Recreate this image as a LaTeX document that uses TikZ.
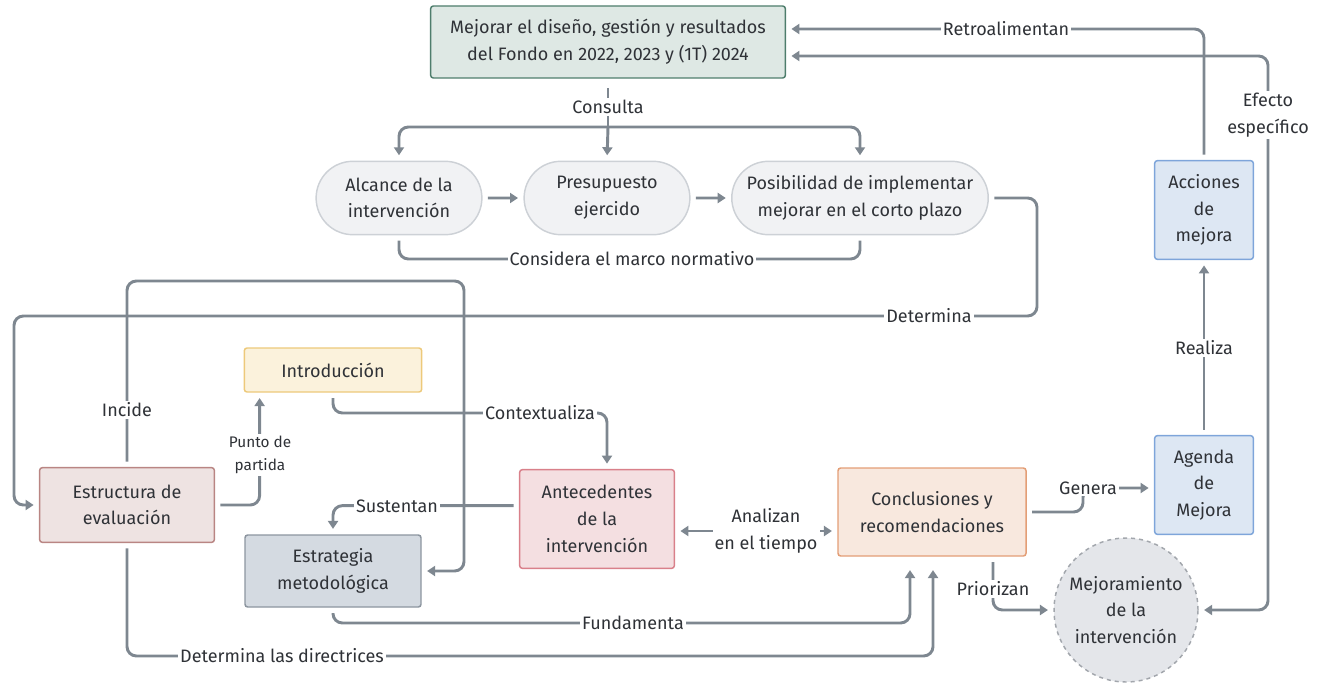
\documentclass[tikz,border=0pt]{standalone}
\usepackage{fontspec}
\setmainfont{Fira Sans}
\usetikzlibrary{arrows.meta, positioning, calc, shapes.misc}
\definecolor{linea}{HTML}{7E8790}
\definecolor{texto}{HTML}{2F3237}
\definecolor{verdeF}{HTML}{DEE8E4}\definecolor{verdeB}{HTML}{4E7D6C}
\definecolor{capF}{HTML}{F1F2F4}\definecolor{capB}{HTML}{CDD1D6}
\definecolor{amaF}{HTML}{FBF2DC}\definecolor{amaB}{HTML}{EDC97A}
\definecolor{rosF}{HTML}{EEE3E2}\definecolor{rosB}{HTML}{B98583}
\definecolor{rojF}{HTML}{F4DFE1}\definecolor{rojB}{HTML}{D9808A}
\definecolor{grisF}{HTML}{D4DAE1}\definecolor{grisB}{HTML}{8C959F}
\definecolor{narF}{HTML}{F8E8DE}\definecolor{narB}{HTML}{E39E76}
\definecolor{azuF}{HTML}{DDE7F3}\definecolor{azuB}{HTML}{7EA5DA}
\definecolor{cirF}{HTML}{E4E6EA}\definecolor{cirB}{HTML}{A2A6AC}
\tikzset{
    %Define standard arrow tip
    >={Triangle[length=6pt,width=7.5pt]},
    %Define style for boxes
    caja/.style={
           rectangle,
           rounded corners=2pt,
           line width=1.1pt,
           text=texto,
           align=center},
    capsula/.style={
           rounded rectangle,
           draw=capB, fill=capF, line width=1.1pt,
           text=texto,
           align=center,
           minimum height=55pt},
    % Define arrow style
    enl/.style={
           draw=linea,
           line width=2.2pt,
           rounded corners=7pt,
           shorten <=4pt,
           shorten >=4pt},
    etiq/.style={
           fill=white,
           inner sep=1.5pt,
           text=texto,
           align=center}
}
\begin{document}
\begin{tikzpicture}[x=0.75pt, y=-0.75pt, font=\fontsize{13.5}{20}\selectfont]
	\useasboundingbox (0,0) rectangle (1326,688);
	%
	% nodos
	%
	\node[caja, draw=verdeB, fill=verdeF, minimum width=266pt, minimum height=54pt] (mejorar) at (608,42) {Mejorar el diseño, gestión y resultados\\del Fondo en 2022, 2023 y (1T) 2024};
	\node[capsula, minimum width=131pt] (alcance) at (399,198) {Alcance de la\\intervención};
	\node[capsula, minimum width=131pt] (presup) at (607,198) {Presupuesto\\ejercido};
	\node[capsula, minimum width=199pt] (posib) at (860,198) {Posibilidad de implementar\\mejorar en el corto plazo};
	\node[caja, draw=amaB, fill=amaF, minimum width=133pt, minimum height=33pt] (intro) at (333,370) {Introducción};
	\node[caja, draw=rosB, fill=rosF, minimum width=131pt, minimum height=56pt] (estruct) at (127,505) {Estructura de\\evaluación};
	\node[caja, draw=grisB, fill=grisF, minimum width=132pt, minimum height=54pt] (estrat) at (333,571) {Estrategia\\metodológica};
	\node[caja, draw=rojB, fill=rojF, minimum width=116pt, minimum height=74pt] (antec) at (597,519) {Antecedentes\\de la\\intervención};
	\node[caja, draw=narB, fill=narF, minimum width=141pt, minimum height=66pt] (concl) at (932,512) {Conclusiones y\\recomendaciones};
	\node[caja, draw=azuB, fill=azuF, minimum width=74pt, minimum height=74pt] (agenda) at (1204,485) {Agenda\\de\\Mejora};
	\node[caja, draw=azuB, fill=azuF, minimum width=74pt, minimum height=74pt] (acciones) at (1204,210) {Acciones\\de\\mejora};
	\node[circle, draw=cirB, fill=cirF, dashed, line width=1.1pt, text=texto, align=center, minimum size=108pt, inner sep=0pt] (mejoram) at (1126,610) {Mejoramiento\\de la\\intervención};
	\coordinate (cons) at (608,127);
	%
	% enlaces
	%
	\draw[enl, shorten <=7pt, shorten >=0pt] (mejorar.south) -- (cons);
	\draw[enl, ->, shorten <=0pt] (cons) -| (alcance.north);
	\draw[enl, ->, shorten <=0pt] (cons) -- (presup.north);
	\draw[enl, ->, shorten <=0pt] (cons) -| (posib.north);
	\draw[enl, ->] (alcance) -- (presup);
	\draw[enl, ->] (presup) -- (posib);
	\draw[enl] (alcance.south) |- (632,259) -| (posib.south);
	\draw[enl, ->] (posib.east) -| (1037,316) -- (14,316) |- (estruct.west);
	\draw[enl, ->] (estruct.north) |- (464,281) |- (estrat.east);
	\draw[enl, ->] (estruct.east) -| ([xshift=12pt]intro.south west);
	\draw[enl, ->] (intro.south) |- (540,413) -| ([xshift=7.5pt]antec.north);
	\draw[enl, ->] ([yshift=10pt]antec.west) -| (estrat.north);
	\draw[enl, <->] (antec.east |- 0,531) -- (concl.west |- 0,531);
	\draw[enl, ->, shorten >=10pt] (estrat.south) |- (633,623) -| ([xshift=-16.5pt]concl.south);
	\draw[enl, ->, shorten >=10pt] (estruct.south) |- (282,656) -| ([xshift=0.75pt]concl.south);
	\draw[enl, ->] (concl.east) -| (1083,488) -- (agenda.west |- 0,488);
	\draw[enl, ->] (agenda.north) -- (acciones.south);
	\draw[enl, ->] (acciones.north) |- (mejorar.east |- 0,29);
	\draw[enl, <->] (mejorar.east |- 0,56) -| (1268,300) |- (mejoram.east);
	\draw[enl, ->] ([xshift=45.75pt]concl.south) |- (mejoram.west);
	%
	% etiquetas
	%
	\node[etiq] (lcons) at (608,107) {Consulta};
	\node[etiq] (lconsid) at (632,259) {Considera el marco normativo};
	\node[etiq] (ldet) at (929,316) {Determina};
	\node[etiq] (linc) at (127,410) {Incide};
	\node[etiq, font=\fontsize{11.5}{17}\selectfont] (lpunto) at (260,455) {Punto de\\partida};
	\node[etiq] (lcontx) at (540,413) {Contextualiza};
	\node[etiq] (lsust) at (397,506) {Sustentan};
	\node[etiq] (lanal) at (766,531) {Analizan\\en el tiempo};
	\node[etiq] (lfund) at (633,623) {Fundamenta};
	\node[etiq] (ldir) at (282,656) {Determina las directrices};
	\node[etiq] (lgen) at (1088,488) {Genera};
	\node[etiq] (lreal) at (1204,348) {Realiza};
	\node[etiq] (lretro) at (1006,29) {Retroalimentan};
	\node[etiq] (lefec) at (1268,115) {Efecto\\específico};
	\node[etiq] (lprior) at (993,589) {Priorizan};
\end{tikzpicture}
\end{document}
